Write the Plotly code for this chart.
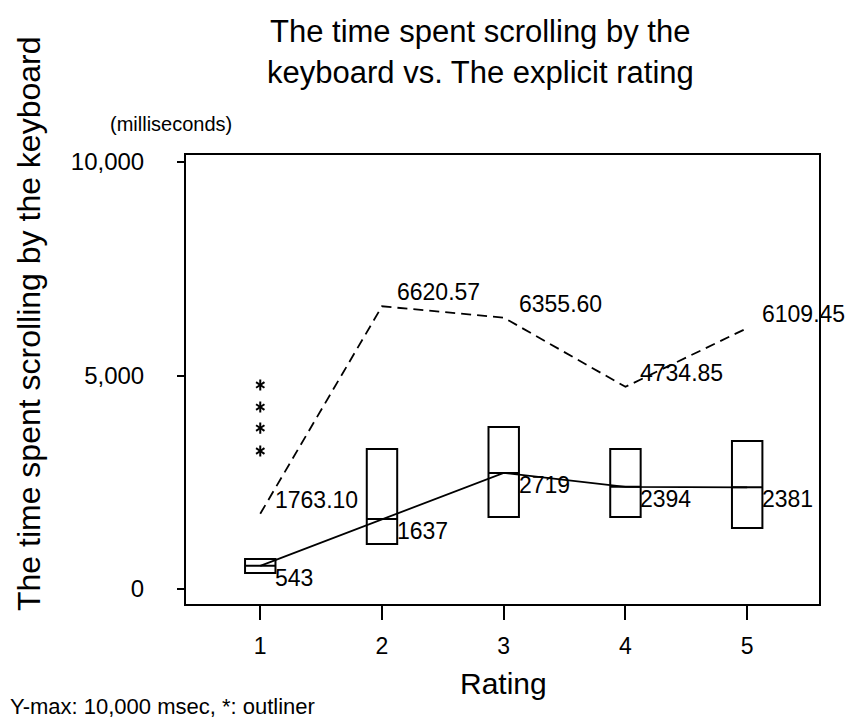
import plotly.graph_objects as go

# ---- data ----
ratings = [1, 2, 3, 4, 5]
q1 = [375, 1054, 1686, 1686, 1429]
medians = [543, 1637, 2719, 2394, 2381]
q3 = [703, 3279, 3794, 3279, 3466]
means = [1763.10, 6620.57, 6355.60, 4734.85, 6109.45]
median_labels = ["543", "1637", "2719", "2394", "2381"]
mean_labels = ["1763.10", "6620.57", "6355.60", "4734.85", "6109.45"]
outlier_x = [1, 1, 1, 1]
outlier_y = [4778, 4262, 3770, 3232]
y_ticks = [0, 5000, 10000]
x_ticks = [1, 2, 3, 4, 5]

FONT = "Liberation Sans, Arial, sans-serif"
W, H = 853, 722
ML, MR, MT, MB = 186, 34, 155, 118
PW, PH = W - ML - MR, H - MT - MB


def px(x):
    return (x - ML) / PW


def py(y):
    return (H - MB - y) / PH


fig = go.Figure()

# boxes (no whiskers)
fig.add_trace(go.Box(
    x=ratings, q1=q1, median=medians, q3=q3,
    lowerfence=q1, upperfence=q3,
    boxpoints=False, width=0.25, whiskerwidth=0,
    line=dict(color="black", width=2), fillcolor="rgba(0,0,0,0)",
    showlegend=False, hoverinfo="skip",
))

# median line
fig.add_trace(go.Scatter(
    x=ratings, y=medians, mode="lines",
    line=dict(color="black", width=1.8), showlegend=False,
))

# mean line (dashed)
fig.add_trace(go.Scatter(
    x=ratings, y=means, mode="lines",
    line=dict(color="black", width=1.8, dash="10px,6px"), showlegend=False,
))

# outliers as six-armed asterisks
for sym in ["y-up-open", "y-down-open"]:
    fig.add_trace(go.Scatter(
        x=outlier_x, y=outlier_y, mode="markers",
        marker=dict(symbol=sym, size=7, color="black", line=dict(color="black", width=2)),
        showlegend=False,
    ))

annotations = []
for r, m, lab in zip(ratings, medians, median_labels):
    annotations.append(dict(x=r, y=m, text=lab, showarrow=False, xanchor="left",
                            yanchor="middle", xshift=13, yshift=-12,
                            font=dict(family=FONT, size=23, color="black")))
for r, m, lab in zip(ratings, means, mean_labels):
    annotations.append(dict(x=r, y=m, text=lab, showarrow=False, xanchor="left",
                            yanchor="middle", xshift=13, yshift=14,
                            font=dict(family=FONT, size=23, color="black")))

# titles and notes
annotations += [
    dict(xref="paper", yref="paper", x=px(480), y=py(32), text="The time spent scrolling by the",
         showarrow=False, xanchor="center", yanchor="middle",
         font=dict(family=FONT, size=31, color="black")),
    dict(xref="paper", yref="paper", x=px(480), y=py(73), text="keyboard vs. The explicit rating",
         showarrow=False, xanchor="center", yanchor="middle",
         font=dict(family=FONT, size=31, color="black")),
    dict(xref="paper", yref="paper", x=px(29), y=py(324), text="The time spent scrolling by the keyboard",
         showarrow=False, textangle=-90, xanchor="center", yanchor="middle",
         font=dict(family=FONT, size=32, color="black")),
    dict(xref="paper", yref="paper", x=px(108), y=py(124), text="(milliseconds)",
         showarrow=False, xanchor="left", yanchor="middle",
         font=dict(family=FONT, size=20, color="black")),
    dict(xref="paper", yref="paper", x=px(503), y=py(683), text="Rating",
         showarrow=False, xanchor="center", yanchor="middle",
         font=dict(family=FONT, size=30, color="black")),
    dict(xref="paper", yref="paper", x=px(8), y=py(706), text="Y-max: 10,000 msec, *: outliner",
         showarrow=False, xanchor="left", yanchor="middle",
         font=dict(family=FONT, size=22, color="black")),
]

fig.update_layout(
    width=W, height=H,
    margin=dict(l=ML, r=MR, t=MT, b=MB),
    paper_bgcolor="white", plot_bgcolor="white",
    font=dict(family=FONT, color="black"),
    annotations=annotations,
    showlegend=False,
)
fig.update_xaxes(
    range=[0.39, 5.59], tickvals=x_ticks, ticktext=[str(v) for v in x_ticks],
    showgrid=False, zeroline=False, showline=True, mirror=True,
    linecolor="black", linewidth=2, ticks="outside", ticklen=14, tickwidth=2,
    tickcolor="black", tickfont=dict(family=FONT, size=23, color="black"),
    ticklabelstandoff=6,
)
fig.update_yaxes(
    range=[-351, 10164], tickvals=y_ticks, tickformat=",",
    showgrid=False, zeroline=False, showline=True, mirror=True,
    linecolor="black", linewidth=2, ticks="outside", ticklen=7, tickwidth=2,
    tickcolor="black", tickfont=dict(family=FONT, size=24, color="black"),
    ticklabelstandoff=28,
)

fig.write_html("out.html")
